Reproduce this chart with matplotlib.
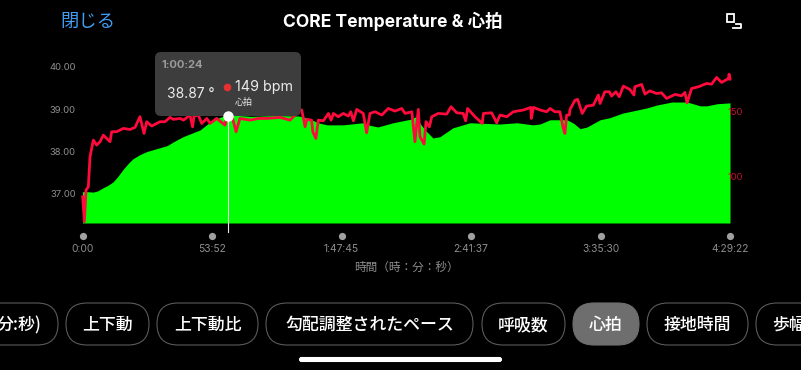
import matplotlib
matplotlib.use('Agg')
import matplotlib.pyplot as plt
from matplotlib.patches import FancyBboxPatch, Rectangle

plt.rcParams['font.family'] = ['Noto Sans CJK JP', 'DejaVu Sans']
LATIN = ['Inter', 'Noto Sans CJK JP']

W, H = 801, 370
# chart box in screen pixels
LEFT, RIGHT, TOP, BOTTOM = 82.5, 730.0, 50.0, 223.0

# time in minutes, temperature in deg C
temp_t = [0, 2.2, 4.4, 6.4, 8.5, 10.6, 12.7, 14.7, 16.8, 18.9, 21, 24, 26.8, 31, 35.2, 38.5, 41.8,
          48.9, 54.3, 60.4, 70, 80, 90, 94.6, 98, 101.7, 108.4, 116.7, 119.5, 122.9, 129.2, 137.1,
          138.3, 142.5, 145.8, 148.7, 154.1, 161.2, 173.7, 180.8, 187.4, 190.3, 194.5, 201.6,
          204.5, 207, 209.9, 215.3, 219.4, 224.8, 229, 234.8, 239, 245.2, 251.5, 254, 256.9,
          259.8, 264, 269.37]
temp_v = [37.05, 37.05, 37.04, 37.07, 37.14, 37.2, 37.28, 37.41, 37.57, 37.71, 37.83, 37.93, 38.0,
          38.07, 38.14, 38.25, 38.35, 38.51, 38.75, 38.87, 38.83, 38.85, 38.84, 38.77, 38.68,
          38.63, 38.63, 38.68, 38.62, 38.58, 38.68, 38.77, 38.82, 38.51, 38.32, 38.35, 38.56,
          38.68, 38.65, 38.68, 38.63, 38.65, 38.75, 38.75, 38.66, 38.54, 38.58, 38.75, 38.80,
          38.91, 38.96, 39.03, 39.10, 39.17, 39.17, 39.13, 39.08, 39.08, 39.13, 39.15]

# time in minutes, heart rate in bpm
hr_t = [0.07, 0.77, 1.46, 2.43, 3.12, 4.51, 5.9, 7.29, 8.67, 11.45, 12.14, 14.2, 17, 19.77,
        21.85, 23.9, 25.6, 26.7, 28.8, 32.25, 34.3, 36.4, 37.8, 40.6, 42, 44.7, 45.8, 46.4,
        48.2, 49.6, 51.7, 53.1, 55.8, 59.3, 60.4, 62.1, 63.9, 65.5, 69.7, 73.2, 76.6, 82.2,
        86.3, 90.5, 91.2, 92.6, 93.3, 95.3, 95.8, 97.1, 98.1, 100.2, 102.3, 103.4, 104.4,
        106.4, 108.5, 110.6, 111.6, 112.7, 114.1, 116.8, 118.2, 119.6, 121.7, 124.5, 127.2,
        130, 132.8, 134.2, 137, 138.3, 139.7, 140.4, 142.1, 142.9, 144.3, 145.3, 148, 151.5,
        153.3, 155.7, 158.4, 159.4, 160.2, 163.3, 166.3, 166.8, 170.2, 172.3, 173.7, 176.5,
        179.2, 183.4, 186.5, 186.7, 187.6, 190.4, 193.1, 194.5, 196.5, 198.6, 200, 200.7,
        201.4, 202.5, 202.8, 204.9, 206, 207.9, 209.7, 212.5, 214.6, 215.3, 217.3, 219.2,
        220.1, 221.9, 223.3, 225, 227.7, 229.4, 229.8, 232.6, 234, 236, 238.8, 240.9, 243,
        246.5, 249.2, 250.6, 251.5, 253.4, 256.2, 259.6, 261.7, 263.8, 265.9, 268.7, 269, 269.37]
hr_v = [84.8, 65.8, 89.9, 92.4, 115.2, 127.9, 124.1, 126.7, 131.7, 126.7, 134.3, 134.3, 136.8,
        136, 137.6, 145.7, 133, 141.9, 138.6, 141.9, 141.9, 145.2, 143.7, 144.4, 143.1, 146.9,
        138, 146.2, 146.9, 140.6, 144.4, 140.6, 144.4, 139.3, 149, 146.9, 134.3, 144.4, 143.1,
        144.4, 144.4, 145.2, 143.1, 150.8, 150.8, 138.1, 143.7, 143.1, 134.3, 129.2, 143.1,
        142.6, 148.2, 143.1, 148.2, 145.7, 148.2, 146.2, 149.5, 142.6, 151.3, 148.2, 133.5,
        148.2, 149.5, 147, 152, 150, 152, 148.2, 149.5, 126.7, 151.3, 130.5, 124.9, 141.9, 138,
        145.7, 148.2, 147.7, 153.3, 148.7, 148.2, 142.6, 152, 145.7, 140.6, 148.2, 148.7, 141.1,
        147, 145.7, 149.5, 150.8, 152.8, 144.4, 152.8, 150.8, 149.5, 152, 149.5, 149.5, 136.8,
        133, 146.9, 146.9, 151.2, 158.3, 158.9, 148.2, 153.8, 154.5, 162.2, 155.8, 164.7, 164.7,
        161.4, 164.7, 160.9, 169, 166.5, 162.2, 168.5, 170.3, 162.9, 165.4, 163.4, 163.9, 159.6,
        162.7, 161.6, 164.2, 156.3, 167.2, 168.5, 171, 170.5, 175.6, 171.8, 174.8, 178.1, 174.3]

time_ticks = [0, 53.87, 107.75, 161.62, 215.5, 269.37]
time_labels = ['0:00', '53:52', '1:47:45', '2:41:37', '3:35:30', '4:29:22']
temp_ticks = [37, 38, 39, 40]
temp_labels = ['37.00', '38.00', '39.00', '40.00']
hr_ticks = [100, 150]

pill_labels = ['分:秒)', '上下動', '上下動比', '勾配調整されたペース', '呼吸数', '心拍', '接地時間', '歩幅']
pill_left = [-70, 66, 157, 266, 482, 573, 647, 756]
pill_right = [58, 149, 258, 473, 565, 639, 748, 860]

fig = plt.figure(figsize=(W / 100, H / 100), dpi=100, facecolor='black')

ax = fig.add_axes([LEFT / W, 1 - BOTTOM / H, (RIGHT - LEFT) / W, (BOTTOM - TOP) / H])
ax.set_facecolor('black')
ax.fill_between(temp_t, temp_v, 36.31, color='#00ff00', lw=0)
ax.set_xlim(0, 269.37)
ax.set_ylim(36.31, 40.4)
ax.set_yticks(temp_ticks)
ax.set_yticklabels(temp_labels, color='#8e8e8e', fontsize=6.8, family=LATIN)
ax.set_xticks(time_ticks)
ax.set_xticklabels(time_labels, color='#8e8e8e', fontsize=7.4, family=LATIN)
ax.tick_params(axis='x', length=0, pad=15)
ax.tick_params(axis='y', length=0, pad=4.7)
for s in ax.spines.values():
    s.set_visible(False)
ax.plot(time_ticks, [-0.075] * len(time_ticks), 'o', ms=5.2, color='#a0a0a0', mec='none',
        transform=ax.get_xaxis_transform(), clip_on=False)
ax.set_xlabel('時間（時：分：秒）', color='#8e8e8e', fontsize=8.4, labelpad=5)

ax2 = ax.twinx()
ax2.plot(hr_t, hr_v, color='#ff0a3c', lw=2.0, solid_joinstyle='round', clip_on=False)
ax2.set_ylim(64.8, 196.5)
ax2.set_yticks(hr_ticks)
ax2.set_yticklabels([str(v) for v in hr_ticks], color='#c01030', fontsize=6.8, family=LATIN)
ax2.tick_params(axis='y', length=0, pad=-1.5)
for s in ax2.spines.values():
    s.set_visible(False)

# everything that is not the chart, in screen pixels
ui = fig.add_axes([0, 0, 1, 1])
ui.set_xlim(0, W)
ui.set_ylim(H, 0)
ui.axis('off')
ui.patch.set_alpha(0)

ui.text(87.5, 21.5, '閉じる', color='#3f9cf0', fontsize=13.2, ha='center', va='center')
ui.text(393, 21, 'CORE Temperature & 心拍', color='white', fontsize=12.6, fontweight='bold',
        ha='center', va='center', family=LATIN)
ui.add_patch(Rectangle((726.5, 13.5), 7.5, 8, fc='none', ec='white', lw=1.3))
ui.plot([736, 741, 741, 733], [24, 24, 27.5, 27.5], color='white', lw=1.3)

# crosshair and tooltip
ui.plot([227.5, 227.5], [116, 232], color='#e8e8e8', lw=0.8)
ui.plot([227.5], [116], 'o', ms=7.5, color='white', mec='none')
ui.add_patch(FancyBboxPatch((155, 52), 146, 64, boxstyle='round,pad=0,rounding_size=6',
                            fc='#3d3d3d', ec='none'))
ui.text(162, 65, '1:00:24', color='#9a9a9a', fontsize=8, fontweight='bold', va='center', family=LATIN)
ui.text(190.5, 93.5, '38.87 °', color='#ececec', fontsize=10, ha='center', va='center', family=LATIN)
ui.plot([226.5], [87], 'o', ms=5.5, color='#e5302f', mec='none')
ui.text(235, 87.5, '149 bpm', color='#ececec', fontsize=10.3, va='center', family=LATIN)
ui.text(235, 102.5, '心拍', color='#ececec', fontsize=6.5, va='center')

# metric pills along the bottom
for name, x0, x1 in zip(pill_labels, pill_left, pill_right):
    active = name == '心拍'
    ui.add_patch(FancyBboxPatch((x0, 303), x1 - x0, 42,
                                boxstyle='round,pad=0,rounding_size=21',
                                fc='#6e6e6e' if active else 'black',
                                ec='#6e6e6e' if active else '#5a5a5a', lw=0.8))
    if name == '分:秒)':
        ui.text(42, 325, name, color='white', fontsize=12.2, fontweight='medium', ha='right', va='center')
    elif name == '歩幅':
        ui.text(772, 325, name, color='white', fontsize=12.2, fontweight='medium', ha='left', va='center')
    else:
        ui.text((x0 + x1) / 2, 325, name, color='white', fontsize=12.2, fontweight='medium',
                ha='center', va='center')

ui.add_patch(FancyBboxPatch((300, 358), 201, 3, boxstyle='round,pad=0,rounding_size=1.5',
                            fc='white', ec='white', lw=1.5))

fig.savefig('out.png', dpi=100, facecolor='black')
